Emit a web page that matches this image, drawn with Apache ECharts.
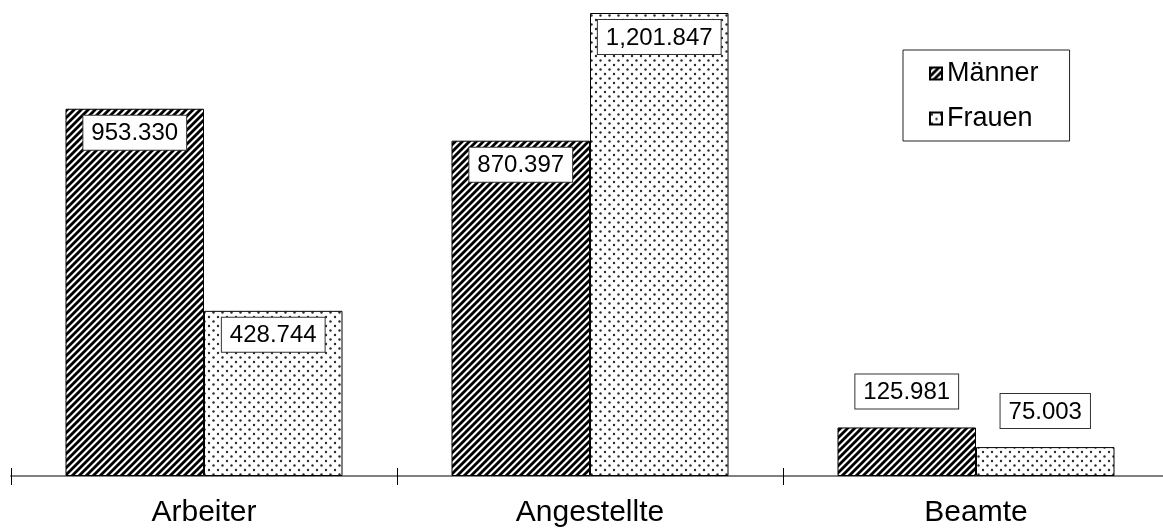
<!DOCTYPE html>
<html>
<head>
<meta charset="utf-8">
<title>Arbeiter, Angestellte, Beamte</title>
<script src="https://cdn.jsdelivr.net/npm/echarts@6/dist/echarts.min.js"></script>
<style>
  html, body { margin: 0; padding: 0; background: #ffffff; overflow: hidden; }
  /* the axis runs on past the right edge of the window */
  #chart { width: 1169px; height: 528px; }
</style>
</head>
<body>
<div id="chart"></div>
<script>
// Beschäftigte nach Stellung im Beruf und Geschlecht
const categories = ['Arbeiter', 'Angestellte', 'Beamte'];
const seriesNames = ['Männer', 'Frauen'];
const maenner = [953330, 870397, 125981];
const frauen = [428744, 1201847, 75003];

const FONT = '"Liberation Sans", Arial, sans-serif';

// Thousands grouped with '.', millions with ','
function formatValue(v) {
  const s = String(v);
  const groups = [];
  for (let i = s.length; i > 0; i -= 3) groups.unshift(s.slice(Math.max(0, i - 3), i));
  if (groups.length === 1) return groups[0];
  const last = groups.pop();
  return groups.join(',') + '.' + last;
}

// Diagonal hatch tile ("/" stripes), supersampled for soft edges
function stripeTile() {
  const n = 7, ss = 4;
  const c = document.createElement('canvas');
  c.width = n; c.height = n;
  const ctx = c.getContext('2d');
  const img = ctx.createImageData(n, n);
  for (let y = 0; y < n; y++) {
    for (let x = 0; x < n; x++) {
      let dark = 0;
      for (let sy = 0; sy < ss; sy++) {
        for (let sx = 0; sx < ss; sx++) {
          const t = ((x + (sx + 0.5) / ss) + (y + (sy + 0.5) / ss)) / n;
          const f = t - Math.floor(t);
          if (f < 0.55) dark++;
        }
      }
      const g = Math.round(255 * (1 - dark / (ss * ss)));
      const k = (y * n + x) * 4;
      img.data[k] = g; img.data[k + 1] = g; img.data[k + 2] = g; img.data[k + 3] = 255;
    }
  }
  ctx.putImageData(img, 0, 0);
  return c;
}

// Staggered dot tile
function dotTile() {
  const n = 9;
  const c = document.createElement('canvas');
  c.width = n; c.height = n;
  const ctx = c.getContext('2d');
  ctx.fillStyle = '#ffffff';
  ctx.fillRect(0, 0, n, n);
  ctx.fillStyle = '#2a2a2a';
  [[2, 2], [6.5, 6.5]].forEach(function (p) {
    ctx.beginPath();
    ctx.arc(p[0], p[1], 1.2, 0, Math.PI * 2);
    ctx.fill();
  });
  return c;
}

const hatch = { image: stripeTile(), repeat: 'repeat' };
const dots = { image: dotTile(), repeat: 'repeat' };

const labelBase = {
  show: true,
  color: '#000000',
  fontFamily: FONT,
  fontSize: 24,
  backgroundColor: '#ffffff',
  borderColor: '#333333',
  borderWidth: 1,
  padding: [6, 8, 4, 8],
  formatter: function (p) { return formatValue(p.value); }
};

// Tall bars carry the label inside at the top, short bars above
function withLabels(values) {
  return values.map(function (v) {
    const inside = v > 300000;
    return {
      value: v,
      label: inside
        ? { position: 'insideTop', distance: 7 }
        : { position: 'top', distance: 19 }
    };
  });
}

const chart = echarts.init(document.getElementById('chart'), null, { renderer: 'canvas' });

chart.setOption({
  animation: false,
  backgroundColor: '#ffffff',
  textStyle: { fontFamily: FONT },
  grid: { left: 11, right: 0, top: 13, bottom: 50, containLabel: false },
  legend: {
    orient: 'vertical',
    left: 903,
    top: 50,
    padding: [10, 31, 9, 26],
    itemGap: 18,
    itemWidth: 12,
    itemHeight: 12,
    icon: 'rect',
    backgroundColor: '#ffffff',
    borderColor: '#222222',
    borderWidth: 1,
    textStyle: { fontFamily: FONT, fontSize: 27, color: '#000000', padding: [0, 0, 0, 0] },
    data: seriesNames
  },
  xAxis: [
    {
      type: 'category',
      data: categories,
      boundaryGap: true,
      axisLine: { show: true, lineStyle: { color: '#808080', width: 2 } },
      axisTick: { show: true, inside: false, length: 9, lineStyle: { color: '#000000', width: 1 } },
      axisLabel: { show: true, color: '#000000', fontFamily: FONT, fontSize: 30, margin: 22 }
    },
    {
      type: 'category',
      data: categories,
      boundaryGap: true,
      position: 'bottom',
      axisLine: { show: false },
      axisTick: { show: true, inside: true, length: 8, lineStyle: { color: '#000000', width: 1 } },
      axisLabel: { show: false }
    }
  ],
  yAxis: {
    type: 'value',
    min: 0,
    max: 'dataMax',
    show: false,
    splitLine: { show: false }
  },
  series: [
    {
      name: seriesNames[0],
      type: 'bar',
      xAxisIndex: 0,
      barWidth: 138.5,
      barGap: '0%',
      itemStyle: { color: hatch, borderColor: '#000000', borderWidth: 1 },
      label: labelBase,
      data: withLabels(maenner)
    },
    {
      name: seriesNames[1],
      type: 'bar',
      xAxisIndex: 0,
      barWidth: 138.5,
      barGap: '0%',
      itemStyle: { color: dots, borderColor: '#000000', borderWidth: 1 },
      label: labelBase,
      data: withLabels(frauen)
    }
  ]
});
</script>
</body>
</html>
